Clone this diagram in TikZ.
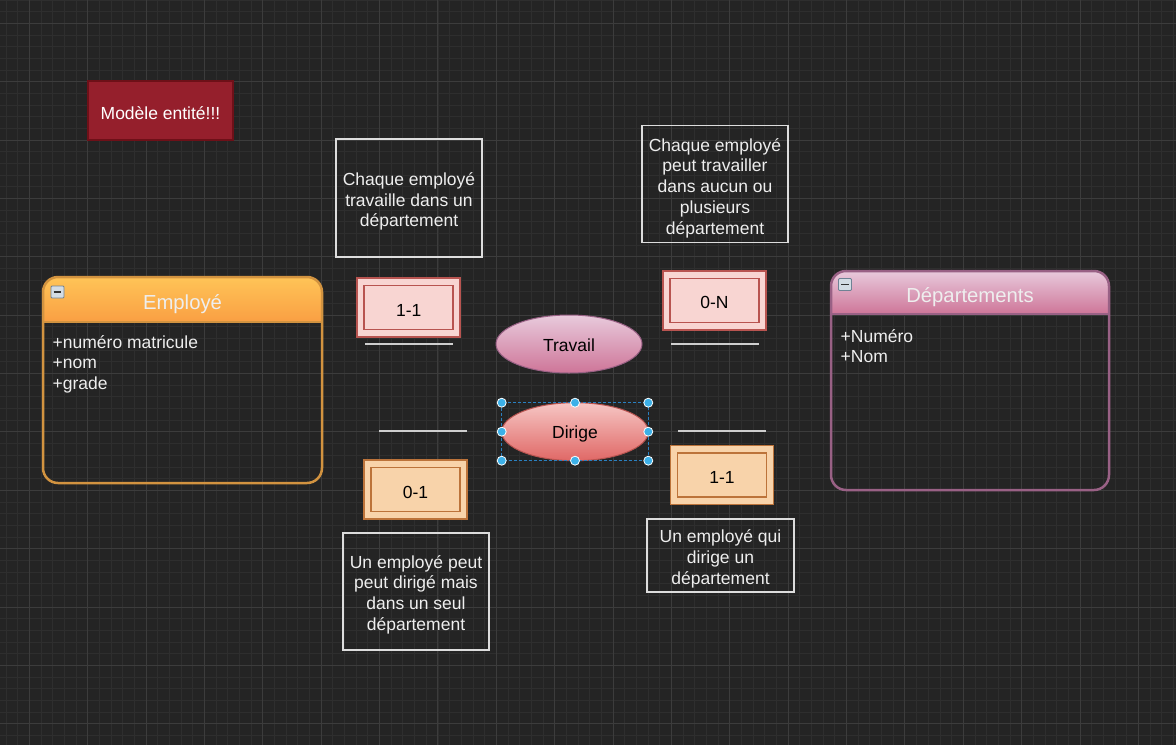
\documentclass[tikz,border=0pt]{standalone}
\usepackage{fontspec}
\setmainfont{Liberation Sans}
\usetikzlibrary{shapes.geometric}
\definecolor{bg}{HTML}{242424}
\definecolor{gridminor}{HTML}{2E2E2E}
\definecolor{gridmajor}{HTML}{3C3C3C}
\definecolor{txtwhite}{HTML}{EEEEEE}
\definecolor{boxline}{HTML}{DDDDDD}
\definecolor{titlered}{HTML}{951F2C}
\definecolor{titleredline}{HTML}{6E1018}
\definecolor{orgline}{HTML}{D29340}
\definecolor{orgtop}{HTML}{FFC457}
\definecolor{orgbot}{HTML}{F99F43}
\definecolor{pinkline}{HTML}{996185}
\definecolor{pinktop}{HTML}{E8CADC}
\definecolor{pinkbot}{HTML}{CE7598}
\definecolor{redfill}{HTML}{F8D5D2}
\definecolor{redline}{HTML}{B85450}
\definecolor{peachfill}{HTML}{F8D3AA}
\definecolor{peachline}{HTML}{BC733A}
\definecolor{dirtop}{HTML}{F6C6C4}
\definecolor{dirbot}{HTML}{E06866}
\definecolor{selblue}{HTML}{2A80C0}
\definecolor{handle}{HTML}{3CB0E8}
\definecolor{iconfill}{HTML}{D3DCE4}
\definecolor{iconline}{HTML}{6F8294}
\definecolor{sepline}{HTML}{CFCFCF}
\tikzset{
  body/.style={font=\fontsize{17.5}{20.7}\selectfont},
  notebox/.style={draw=boxline, line width=1.5pt, inner sep=0pt, outer sep=0pt, minimum width=146pt},
  notetext/.style={body, text=txtwhite, align=center, inner sep=0pt},
  cardouter/.style={draw=#1, line width=1.5pt, inner sep=0pt, outer sep=0pt,
    minimum width=103pt, minimum height=59pt},
  cardinner/.style={body, draw=#1, line width=1.5pt, inner sep=0pt, outer sep=0pt,
    minimum width=89pt, minimum height=44pt, text=black},
  relation/.style={ellipse, body, draw=#1, line width=1pt, inner sep=0pt, outer sep=0pt,
    minimum width=146pt, minimum height=58pt, text=black},
  attr/.style={body, text=txtwhite, anchor=base west, inner sep=0pt},
  enttitle/.style={font=\fontsize{20.3}{24}\selectfont, text=txtwhite, inner sep=0pt},
  freeline/.style={draw=sepline, line width=1.5pt},
  handledot/.style={circle, fill=handle, draw=white, line width=0.8pt, minimum size=9pt, inner sep=0pt},
  minusicon/.style={draw=iconline, fill=iconfill, line width=0.8pt, minimum width=13pt,
    minimum height=12pt, inner sep=0pt, rounded corners=1pt}
}
\newcommand{\lowr}[2]{\raisebox{-#1pt}[\height][\depth]{#2}}
\begin{document}
\begin{tikzpicture}[x=1pt,y=-1pt]
\useasboundingbox (0,0) rectangle (1176,745);
\fill[bg] (0,0) rectangle (1176,745);
% grid
\foreach \i in {0,...,101} {
  \draw[gridminor, line width=0.8pt] ({5.98+\i*11.674},0) -- ({5.98+\i*11.674},745);
}
\foreach \j in {0,...,64} {
  \draw[gridminor, line width=0.8pt] (0,{-0.05+\j*11.674}) -- (1176,{-0.05+\j*11.674});
}
\foreach \i in {0,...,19} {
  \draw[gridmajor, line width=1pt] ({29.33+\i*58.37},0) -- ({29.33+\i*58.37},745);
}
\foreach \j in {0,...,12} {
  \draw[gridmajor, line width=1pt] (0,{23.3+\j*58.37}) -- (1176,{23.3+\j*58.37});
}

% title
\node[body, fill=titlered, draw=titleredline, line width=1.2pt, text=white,
  minimum width=145pt, minimum height=59pt, inner sep=0pt] (title) at (160.5,110.5) {\lowr{2.5}{Modèle entité!!!}};

% Employé entity
\shade[top color=orgtop, bottom color=orgbot]
  (43,322) [rounded corners=15pt] -- (43,277) -- (322,277) [sharp corners] -- (322,322) -- cycle;
\draw[orgline, line width=2.5pt, rounded corners=15pt] (43,277) rectangle (322,483);
\draw[orgline, line width=2pt] (43,322) -- (322,322);
\node[minusicon] (empicon) at (57.5,292) {};
\draw[black!80, line width=1.5pt] ([xshift=3pt]empicon.west) -- ([xshift=-3pt]empicon.east);
\node[enttitle] (emptitle) at (182.5,304) {Employé};
\node[attr] (empa1) at (52.5,348) {+numéro matricule};
\node[attr] (empa2) at (52.5,368.5) {+nom};
\node[attr] (empa3) at (52.5,389) {+grade};

% Départements entity
\shade[top color=pinktop, bottom color=pinkbot]
  (831,314) [rounded corners=15pt] -- (831,271) -- (1109,271) [sharp corners] -- (1109,314) -- cycle;
\draw[pinkline, line width=2.5pt, rounded corners=15pt] (831,271) rectangle (1109,490);
\draw[pinkline, line width=2pt] (831,314) -- (1109,314);
\node[minusicon] (depicon) at (845,284.5) {};
\draw[black!80, line width=1.5pt] ([xshift=3pt]depicon.west) -- ([xshift=-3pt]depicon.east);
\node[enttitle] (deptitle) at (970,297) {Départements};
\node[attr] (depa1) at (840.5,342) {+Numéro};
\node[attr] (depa2) at (840.5,362) {+Nom};

% notes
\node[notebox, minimum height=118pt] (noteA) at (409,198) {};
\node[notetext] (noteAt) at (409,201.5) {Chaque employé\\travaille dans un\\département};
\node[notebox, minimum height=117pt] (noteB) at (715,184) {};
\node[notetext] (noteBt) at (715,188) {Chaque employé\\peut travailler\\dans aucun ou\\plusieurs\\département};
\node[notebox, minimum height=117pt] (noteC) at (416,591.5) {};
\node[notetext] (noteCt) at (416,594.5) {Un employé peut\\peut dirigé mais\\dans un seul\\département};
\node[notebox, minimum width=147pt, minimum height=73pt] (noteD) at (720.5,555.5) {};
\node[notetext] (noteDt) at (720.5,559) {Un employé qui\\dirige un\\département};

% cardinalities
\node[cardouter=redline, fill=redfill] (c1o) at (408.7,307.5) {};
\node[cardinner=redline, fill=redfill] (c1) at (408.7,307.5) {\lowr{2.5}{1-1}};
\node[cardouter=redline, fill=redfill] (c2o) at (714.5,300.5) {};
\node[cardinner=redline, fill=redfill] (c2) at (714.5,300.5) {\lowr{2}{0-N}};
\node[cardouter=peachline, fill=peachfill] (c3o) at (415.5,489.5) {};
\node[cardinner=peachline, fill=peachfill] (c3) at (415.5,489.5) {\lowr{2.5}{0-1}};
\node[cardouter=peachline, fill=peachfill] (c4o) at (722,475) {};
\node[cardinner=peachline, fill=peachfill] (c4) at (722,475) {\lowr{2.5}{1-1}};

% relations
\node[relation=pinkline, top color=pinktop, bottom color=pinkbot] (travail) at (569,344) {\lowr{1.5}{Travail}};
\node[relation=redline, top color=dirtop, bottom color=dirbot, minimum width=146.6pt] (dirige) at (575,431.7) {\lowr{2}{Dirige}};

% free lines
\coordinate (l1a) at (365,344); \coordinate (l1b) at (453,344);
\coordinate (l2a) at (671,344); \coordinate (l2b) at (759,344);
\coordinate (l3a) at (379,431); \coordinate (l3b) at (467,431);
\coordinate (l4a) at (678,431); \coordinate (l4b) at (766,431);
\draw[freeline] (l1a) -- (l1b);
\draw[freeline] (l2a) -- (l2b);
\draw[freeline] (l3a) -- (l3b);
\draw[freeline] (l4a) -- (l4b);

% selection frame
\draw[selblue, line width=1pt, dash pattern=on 3pt off 2pt]
  (dirige.west |- dirige.north) rectangle (dirige.east |- dirige.south);
\foreach \p [count=\k] in {{dirige.west |- dirige.north},{dirige.north},{dirige.east |- dirige.north},
  {dirige.west},{dirige.east},{dirige.west |- dirige.south},{dirige.south},{dirige.east |- dirige.south}} {
  \node[handledot] (h\k) at (\p) {};
}
\end{tikzpicture}
\end{document}
